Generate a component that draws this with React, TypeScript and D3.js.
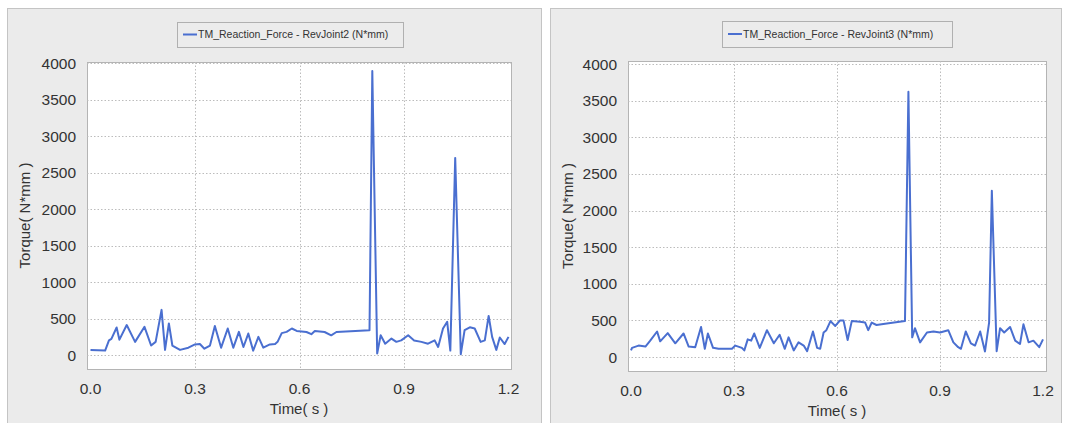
import React from "react";
import * as d3 from "d3";

const xTicks = [0, 0.3, 0.6, 0.9, 1.2];
const yTicks = [0, 500, 1000, 1500, 2000, 2500, 3000, 3500, 4000];

const leftLabel = "TM_Reaction_Force - RevJoint2 (N*mm)";
const rightLabel = "TM_Reaction_Force - RevJoint3 (N*mm)";

const leftTime = [0, 0.042, 0.053, 0.06, 0.075, 0.083, 0.104, 0.128, 0.155, 0.174, 0.187, 0.204, 0.214, 0.225, 0.235, 0.257, 0.281, 0.3, 0.314, 0.327, 0.343, 0.357, 0.375, 0.394, 0.41, 0.426, 0.439, 0.453, 0.467, 0.482, 0.496, 0.515, 0.53, 0.537, 0.549, 0.563, 0.578, 0.592, 0.62, 0.634, 0.644, 0.672, 0.691, 0.706, 0.801, 0.809, 0.823, 0.833, 0.846, 0.864, 0.878, 0.892, 0.912, 0.929, 0.95, 0.969, 0.988, 0.998, 1.012, 1.024, 1.033, 1.047, 1.063, 1.074, 1.089, 1.103, 1.12, 1.132, 1.143, 1.153, 1.165, 1.175, 1.189, 1.2];
const leftTorque = [70, 60, 200, 220, 377, 210, 410, 180, 386, 130, 180, 618, 70, 433, 130, 70, 100, 145, 150, 86, 130, 396, 100, 363, 100, 317, 110, 294, 60, 248, 100, 145, 150, 180, 300, 317, 363, 330, 315, 285, 330, 315, 270, 315, 340, 3890, 20, 270, 155, 225, 180, 200, 270, 200, 180, 155, 200, 110, 363, 455, 60, 2700, 10, 340, 380, 363, 180, 200, 535, 248, 70, 240, 150, 248];

const rightTime = [0, 0.003, 0.022, 0.042, 0.056, 0.076, 0.085, 0.107, 0.129, 0.153, 0.168, 0.187, 0.204, 0.215, 0.224, 0.239, 0.255, 0.294, 0.304, 0.323, 0.33, 0.34, 0.35, 0.359, 0.375, 0.396, 0.416, 0.433, 0.448, 0.459, 0.474, 0.488, 0.503, 0.513, 0.53, 0.542, 0.551, 0.561, 0.569, 0.581, 0.595, 0.609, 0.619, 0.631, 0.643, 0.667, 0.682, 0.691, 0.701, 0.715, 0.74, 0.798, 0.808, 0.819, 0.827, 0.842, 0.862, 0.881, 0.9, 0.924, 0.939, 0.953, 0.961, 0.975, 0.99, 1.002, 1.017, 1.031, 1.043, 1.051, 1.065, 1.075, 1.087, 1.104, 1.119, 1.133, 1.143, 1.158, 1.172, 1.189, 1.2];
const rightTorque = [90, 125, 156, 143, 223, 348, 214, 326, 187, 321, 143, 134, 410, 112, 321, 125, 112, 112, 156, 125, 90, 241, 223, 321, 125, 366, 187, 303, 112, 268, 90, 200, 156, 80, 348, 125, 112, 335, 366, 490, 424, 500, 500, 232, 490, 480, 470, 366, 470, 437, 455, 490, 3620, 268, 393, 200, 335, 348, 335, 366, 200, 134, 112, 348, 187, 156, 348, 76, 470, 2270, 80, 393, 335, 410, 223, 178, 446, 200, 223, 134, 241];

const FONT = "'Liberation Sans', Arial, sans-serif";

type PanelProps = {
  px: number;
  pw: number;
  label: string;
  time: number[];
  torque: number[];
  plot: { l: number; r: number; t: number; b: number };
  x0: number;
  x1: number;
  y0: number;
  y4000: number;
  legend: { l: number; r: number; t: number; b: number };
};

function Panel(p: PanelProps) {
  const x = d3.scaleLinear().domain([0, 1.2]).range([p.x0, p.x1]);
  const y = d3.scaleLinear().domain([0, 4000]).range([p.y0, p.y4000]);
  const pts: [number, number][] = p.time.map((t, i) => [t, p.torque[i]]);
  const line = d3
    .line<[number, number]>()
    .x((d) => x(d[0]))
    .y((d) => y(d[1]));
  const clipId = "clip" + p.px;
  const { l, r, t, b } = p.plot;
  return (
    <g>
      <rect x={p.px + 0.5} y={8.5} width={p.pw} height={430} fill="#ebebeb" stroke="#c4c4c4" />
      <defs>
        <clipPath id={clipId}>
          <rect x={l} y={t} width={r - l} height={b - t} />
        </clipPath>
      </defs>
      <rect x={l + 0.5} y={t + 0.5} width={r - l} height={b - t} fill="#ffffff" stroke="#b4b4b4" />
      {yTicks.map((v) => (
        <line key={"gy" + v} x1={l} x2={r} y1={Math.round(y(v)) + 0.5} y2={Math.round(y(v)) + 0.5} stroke="#bcbcbc" strokeDasharray="1.5,2" strokeWidth={1} />
      ))}
      {xTicks.slice(1, 4).map((v) => (
        <line key={"gx" + v} x1={Math.round(x(v)) + 0.5} x2={Math.round(x(v)) + 0.5} y1={t} y2={b} stroke="#bcbcbc" strokeDasharray="1.5,2" strokeWidth={1} />
      ))}
      <path d={line(pts) || ""} fill="none" stroke="#4a6fd0" strokeWidth={2} strokeLinejoin="round" clipPath={`url(#${clipId})`} />
      {yTicks.map((v) => (
        <text key={"ty" + v} x={l - 11} y={y(v)} dy="0.36em" textAnchor="end" fontFamily={FONT} fontSize={15.5} fill="#333">
          {v}
        </text>
      ))}
      {xTicks.map((v) => (
        <text key={"tx" + v} x={x(v)} y={b + 19} dy="0.36em" textAnchor="middle" fontFamily={FONT} fontSize={15.5} fill="#333">
          {v.toFixed(1)}
        </text>
      ))}
      <text x={(l + r) / 2} y={b + 40} dy="0.36em" textAnchor="middle" fontFamily={FONT} fontSize={15} fill="#333">
        Time( s )
      </text>
      <text
        transform={`translate(${p.px + 18},${(t + b) / 2}) rotate(-90)`}
        dy="0.36em"
        textAnchor="middle"
        fontFamily={FONT}
        fontSize={15}
        fill="#333"
      >
        Torque( N*mm )
      </text>
      <rect x={p.legend.l + 0.5} y={p.legend.t + 0.5} width={p.legend.r - p.legend.l} height={p.legend.b - p.legend.t} fill="#ececec" stroke="#b0b0b0" />
      <line x1={p.legend.l + 6} x2={p.legend.l + 20} y1={(p.legend.t + p.legend.b) / 2} y2={(p.legend.t + p.legend.b) / 2} stroke="#4a6fd0" strokeWidth={2} />
      <text x={p.legend.l + 21} y={(p.legend.t + p.legend.b) / 2} dy="0.36em" fontFamily={FONT} fontSize={10.5} fill="#333">
        {p.label}
      </text>
    </g>
  );
}

export default function App() {
  return (
    <svg width={1066} height={423} style={{ position: "absolute", left: 0, top: 0, background: "#fff" }}>
      <Panel
        px={7}
        pw={534}
        label={leftLabel}
        time={leftTime}
        torque={leftTorque}
        plot={{ l: 87, r: 511, t: 62, b: 369 }}
        x0={90.5}
        x1={508.5}
        y0={355}
        y4000={63}
        legend={{ l: 177, r: 403, t: 22, b: 47 }}
      />
      <Panel
        px={550}
        pw={511}
        label={rightLabel}
        time={rightTime}
        torque={rightTorque}
        plot={{ l: 628, r: 1046, t: 61, b: 371 }}
        x0={631}
        x1={1043}
        y0={357}
        y4000={64}
        legend={{ l: 722, r: 952, t: 21, b: 47 }}
      />
    </svg>
  );
}
